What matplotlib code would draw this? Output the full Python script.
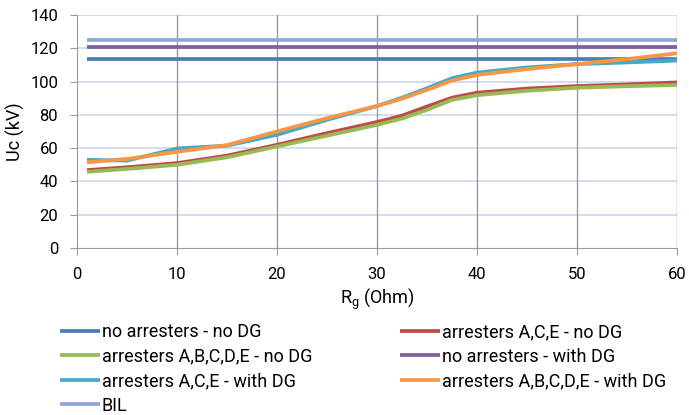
import matplotlib.pyplot as plt

plt.rcParams['font.family'] = ['Roboto', 'DejaVu Sans']

# Rg values (Ohm)
rg = [1, 5, 10, 15, 20, 25, 30, 32.5, 35, 37.5, 40, 45, 50, 55, 60]

no_arr_no_dg = [113.7] * len(rg)
ace_no_dg = [46.8, 48.5, 51.0, 55.5, 62.0, 69.0, 75.7, 79.5, 85.0, 90.3, 93.3, 95.8, 97.3, 98.3, 99.5]
abcde_no_dg = [45.8, 47.5, 50.0, 54.5, 61.0, 67.5, 74.0, 77.8, 83.0, 89.0, 91.8, 94.5, 96.3, 97.2, 98.0]
no_arr_dg = [120.5] * len(rg)
ace_dg = [53.0, 52.5, 59.8, 61.5, 68.0, 77.0, 85.3, 90.3, 96.0, 102.0, 105.4, 108.5, 110.5, 111.5, 112.6]
abcde_dg = [51.5, 53.5, 57.8, 61.8, 70.0, 78.0, 85.3, 89.7, 95.0, 100.6, 104.0, 107.5, 110.5, 113.5, 117.0]
bil = [124.7] * len(rg)

labels = ['no arresters - no DG', 'arresters A,C,E - no DG',
          'arresters A,B,C,D,E - no DG', 'no arresters - with DG',
          'arresters A,C,E - with DG', 'arresters A,B,C,D,E - with DG', 'BIL']
series = [no_arr_no_dg, ace_no_dg, abcde_no_dg, no_arr_dg, ace_dg, abcde_dg, bil]
colors = ['#4A7EBB', '#BE4B48', '#98B954', '#7D60A0', '#46AAC5', '#F79646', '#8EA8D3']

fig = plt.figure(figsize=(6.89, 4.15), dpi=100)
ax = fig.add_axes([77 / 689, 1 - 248 / 415, 600 / 689, 233 / 415])

lines = []
for vals, lab, c in zip(series, labels, colors):
    ln, = ax.plot(rg, vals, color=c, lw=2.7, label=lab,
                  solid_capstyle='butt', solid_joinstyle='round')
    lines.append(ln)

ax.set_xlim(0, 60)
ax.set_ylim(0, 140)
ax.set_xticks(range(0, 61, 10))
ax.set_yticks(range(0, 141, 20))
for y in range(20, 141, 20):
    ax.axhline(y, color='#C9D7EF', lw=1.2, zorder=0)
for x in range(10, 61, 10):
    ax.axvline(x, color='#9A9A9A', lw=1.0, zorder=0)

for s in ['top', 'right']:
    ax.spines[s].set_visible(False)
for s in ['left', 'bottom']:
    ax.spines[s].set_color('#9A9A9A')
ax.tick_params(colors='#9A9A9A', labelcolor='black', labelsize=12, length=5)
ax.tick_params(axis='x', pad=9)
ax.tick_params(axis='y', pad=8.5)

ax.set_xlabel('R$_\\mathregular{g}$ (Ohm)', fontsize=13, labelpad=3)
ax.set_ylabel('Uc (kV)', fontsize=13, labelpad=4)

# two legend columns placed separately, as in the reference
leg_kw = dict(loc='upper left', frameon=False, fontsize=13, handlelength=2.2,
              handletextpad=0.12, labelspacing=0.36, borderaxespad=0, borderpad=0)
col1 = [0, 2, 4, 6]
col2 = [1, 3, 5]
fig.legend([lines[i] for i in col1], [labels[i] for i in col1],
           bbox_to_anchor=(60 / 689, 1 - 323 / 415), **leg_kw)
fig.legend([lines[i] for i in col2], [labels[i] for i in col2],
           bbox_to_anchor=(400 / 689, 1 - 323 / 415), **leg_kw)

fig.savefig('out.png', dpi=100)
